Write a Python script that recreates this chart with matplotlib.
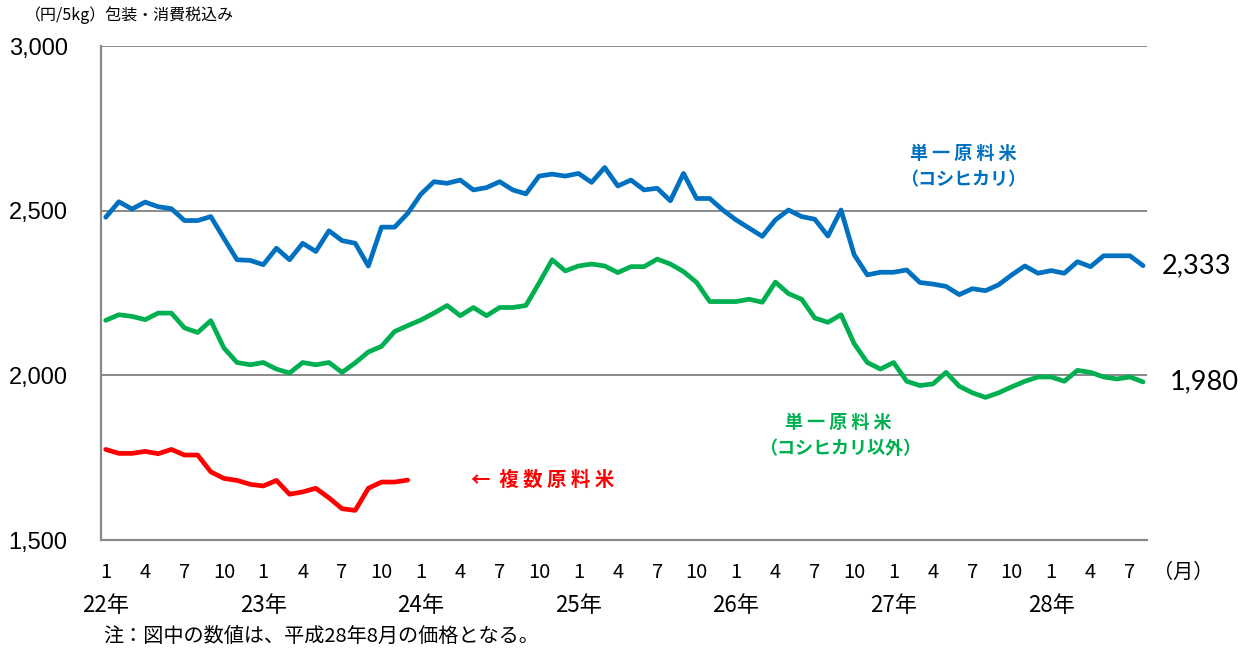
import matplotlib
matplotlib.use('Agg')
import matplotlib.pyplot as plt
import matplotlib.transforms as mtransforms
import numpy as np

plt.rcParams['font.family'] = ['Noto Sans CJK JP', 'DejaVu Sans']

# 平成22年1月〜28年8月 の月次価格 (円/5kg)
koshihikari = [2480, 2527, 2505, 2526, 2512, 2506, 2470, 2470, 2482, 2416,
               2351, 2349, 2336, 2386, 2351, 2401, 2376, 2439, 2409, 2401,
               2332, 2450, 2450, 2492, 2550, 2588, 2583, 2593, 2563, 2570,
               2588, 2563, 2551, 2605, 2611, 2605, 2613, 2586, 2631, 2575,
               2593, 2563, 2568, 2530, 2613, 2537, 2537, 2502, 2472, 2447,
               2422, 2472, 2502, 2482, 2474, 2423, 2502, 2366, 2305, 2313,
               2313, 2320, 2282, 2277, 2270, 2245, 2263, 2257, 2275, 2305,
               2332, 2310, 2318, 2310, 2345, 2330, 2363, 2363, 2363, 2333]
other_single = [2167, 2184, 2179, 2169, 2189, 2189, 2144, 2130, 2166, 2083,
                2039, 2032, 2039, 2019, 2007, 2039, 2032, 2039, 2009, 2038,
                2071, 2088, 2133, 2151, 2168, 2189, 2212, 2181, 2206, 2181,
                2206, 2206, 2212, 2280, 2351, 2317, 2332, 2338, 2332, 2312,
                2330, 2330, 2353, 2338, 2315, 2282, 2224, 2224, 2224, 2231,
                2222, 2283, 2248, 2231, 2174, 2161, 2184, 2096, 2039, 2019,
                2039, 1982, 1969, 1974, 2009, 1967, 1947, 1933, 1947, 1965,
                1982, 1995, 1995, 1982, 2015, 2009, 1995, 1989, 1995, 1980]
blended = [1775, 1763, 1763, 1769, 1762, 1775, 1758, 1758, 1707, 1687,
           1681, 1669, 1664, 1681, 1639, 1646, 1657, 1628, 1595, 1590,
           1657, 1676, 1676, 1682]

month_labels = ['1', '4', '7', '10']
year_labels = ['22年', '23年', '24年', '25年', '26年', '27年', '28年']
yticks = [1500, 2000, 2500, 3000]

BLUE = '#0070C0'
GREEN = '#00B050'
RED = '#FF0000'
GRAY = '#898989'

fig = plt.figure(figsize=(12.5, 6.5), dpi=100)
ax = fig.add_axes([101 / 1250, 1 - 540 / 650, 1046 / 1250, 494 / 650])

line_kw = dict(lw=3.4, solid_joinstyle='round', solid_capstyle='round')
ax.plot(np.arange(len(koshihikari)), koshihikari, color=BLUE, **line_kw)
ax.plot(np.arange(len(other_single)), other_single, color=GREEN, **line_kw)
ax.plot(np.arange(len(blended)), blended, color=RED, **line_kw)

ax.set_xlim(-0.36, 79.3)
ax.set_ylim(1500, 3000)

ax.set_yticks(yticks)
ax.set_yticklabels([f'{v:,}' for v in yticks], family='Liberation Sans', fontsize=17)
ax.tick_params(axis='y', length=0, pad=24)
ax.set_xticks([])
for y in yticks[1:]:
    ax.axhline(y, color=GRAY, lw=1.4, zorder=0)

for s in ['top', 'right']:
    ax.spines[s].set_visible(False)
for s in ['left', 'bottom']:
    ax.spines[s].set_color(GRAY)
    ax.spines[s].set_linewidth(1.6)

# 月・年の目盛ラベル
trans = mtransforms.blended_transform_factory(ax.transData, ax.transAxes)
n = len(koshihikari)
for i in range(0, n, 3):
    ax.text(i, -0.065, month_labels[(i // 3) % 4], transform=trans,
            ha='center', va='center', fontsize=14.5)
for k, lab in enumerate(year_labels):
    ax.text(k * 12, -0.132, lab, transform=trans, ha='center', va='center', fontsize=16)
fig.text(1183 / 1250, 1 - 572 / 650, '（月）', ha='center', va='center', fontsize=14.5)

# 単位と注記
fig.text(25 / 1250, 1 - 15 / 650, '（円/5kg）包装・消費税込み', ha='left', va='center', fontsize=11.5)
fig.text(103 / 1250, 1 - 636 / 650, '注：図中の数値は、平成28年8月の価格となる。',
         ha='left', va='center', fontsize=14.5)

# 系列名
lab_kw = dict(ha='center', va='center', fontsize=13, fontweight='bold')
fig.text(963 / 1250, 1 - 153 / 650, '単 一 原 料 米', color=BLUE, **lab_kw)
fig.text(963 / 1250, 1 - 180 / 650, '（コシヒカリ）', color=BLUE, **lab_kw)
fig.text(838 / 1250, 1 - 422 / 650, '単 一 原 料 米', color=GREEN, **lab_kw)
fig.text(840 / 1250, 1 - 448 / 650, '（コシヒカリ以外）', color=GREEN, **lab_kw)
fig.text(543 / 1250, 1 - 480 / 650, '←  複 数 原 料 米', color=RED, ha='center', va='center',
         fontsize=14, fontweight='bold')

# 最新値
ax.annotate(f'{koshihikari[-1]:,}', xy=(n - 1, koshihikari[-1]), xytext=(19, 0),
            textcoords='offset pixels', ha='left', va='center', fontsize=19.5,
            family='Lato', annotation_clip=False)
ax.annotate(f'{other_single[-1]:,}', xy=(n - 1, other_single[-1]), xytext=(27, 0),
            textcoords='offset pixels', ha='left', va='center', fontsize=19.5,
            family='Lato', annotation_clip=False)

fig.savefig('out.png', dpi=100, facecolor='white')
